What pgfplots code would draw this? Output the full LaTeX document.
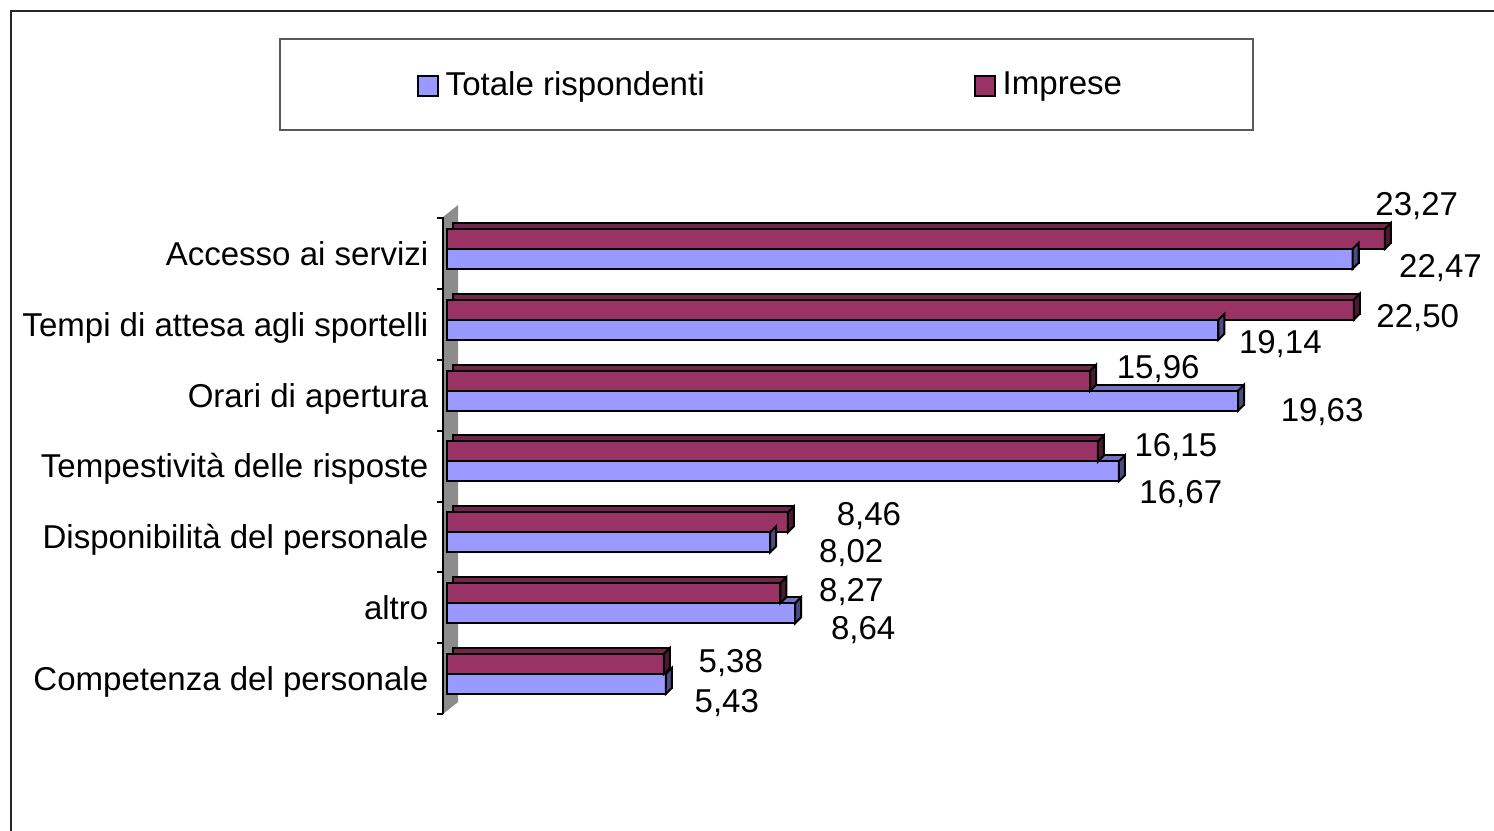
\documentclass[border=0pt]{standalone}
\usepackage{pgfplots}
\pgfplotsset{compat=1.18}
\usepackage{pgfplotstable}
\usepackage{fontspec}
\setmainfont{Liberation Sans}

\definecolor{totC}{HTML}{9999FF}
\definecolor{impC}{HTML}{993366}
\definecolor{wallC}{HTML}{8C8C8C}

% cat: 6 = top row; dx, dy = label offset from bar end at the category centre (px, y downward)
\pgfplotstableread{
cat val dx dy
6 22.47 88 17
5 19.14 62 22
4 19.63 84 19
3 16.67 62 30.5
2 8.02 81 19
1 8.64 68 25
0 5.43 61 27
}\totale

\pgfplotstableread{
cat val dx dy
6 23.27 32 -45
5 22.50 64 -4
4 15.96 68 -24
3 16.15 78 -16.5
2 8.46 81 -18
1 8.27 71 -13
0 5.38 67 -13
}\imprese

% right-hand faces of the 3D bars
\pgfdeclareplotmark{sideup}{%
  \pgfpathmoveto{\pgfpoint{0mm}{0mm}}%
  \pgfpathlineto{\pgfpoint{0mm}{2mm}}%
  \pgfpathlineto{\pgfpoint{0.6mm}{2.6mm}}%
  \pgfpathlineto{\pgfpoint{0.6mm}{0.6mm}}%
  \pgfpathclose
  \pgfusepathqfillstroke}
\pgfdeclareplotmark{sidedown}{%
  \pgfpathmoveto{\pgfpoint{0mm}{-2mm}}%
  \pgfpathlineto{\pgfpoint{0mm}{0mm}}%
  \pgfpathlineto{\pgfpoint{0.6mm}{0.6mm}}%
  \pgfpathlineto{\pgfpoint{0.6mm}{-1.4mm}}%
  \pgfpathclose
  \pgfusepathqfillstroke}

\newcommand\lbl{\fontsize{9.4}{11}\selectfont}

\pgfplotsset{
  sq legend/.style={legend image code/.code={\draw[##1, line width=0.2mm] (0mm,-1mm) rectangle (2mm,1mm);}},
  vlabels/.style={
    point meta=x,
    visualization depends on={\thisrow{dx} \as \dx},
    visualization depends on={\thisrow{dy} \as \dy},
    nodes near coords={\pgfmathprintnumber[fixed, fixed zerofill, precision=2, use comma, assume math mode=true]{\pgfplotspointmeta}},
    nodes near coords style={font=\lbl, text=black, anchor=base, xshift={\dx*0.1mm}, yshift={-(\dy+11.5)*0.1mm}},
  },
}

\begin{document}
\begin{tikzpicture}
\useasboundingbox (0,0) rectangle (149.4mm,-83.1mm);
\begin{scope}[x=0.1mm, y=-0.1mm]
  \draw[line width=0.2mm, black!85] (10.5,840) -- (10.5,10.5) -- (1500,10.5);
  \draw[line width=0.2mm, black!65] (279.5,38.5) rectangle (1252.5,130);
  \fill[wallC] (443,217) -- (458,205) -- (458,702) -- (443,714) -- cycle;
  \draw[line width=0.2mm] (443,217) -- (443,714);
  \foreach \j in {0,...,7}
    \draw[line width=0.2mm] (437,{218.3+70.8*\j}) -- (443,{218.3+70.8*\j});
\end{scope}

\begin{axis}[
  at={(44.7mm,-70.94mm)}, anchor=south west,
  x=4.03mm, y=7.083mm,
  xmin=0, xmax=25.5, ymin=-0.5, ymax=6.5,
  clip=false,
  axis line style={draw=none},
  xtick=\empty,
  ytick={0,...,6},
  yticklabels={Competenza del personale, altro, Disponibilità del personale, Tempestività delle risposte, Orari di apertura, Tempi di attesa agli sportelli, Accesso ai servizi},
  major tick length=0pt,
  yticklabel style={font=\lbl, anchor=base east, inner sep=0pt, xshift=-1.8mm, yshift=-1.65mm},
  legend columns=2,
  legend style={at={(axis description cs:-0.0295,1.2574)}, anchor=west, draw=none, fill=none,
    inner sep=0pt, outer sep=0pt, font=\lbl,
    /tikz/every even column/.append style={column sep=26.2mm}},
]
% Totale rispondenti
\addplot[forget plot, xbar, bar width=2mm, bar shift=-0.4mm, xshift=0.6mm,
  fill=totC!75!black, draw=black, line width=0.2mm] table[x=val, y=cat] {\totale};
\addplot[forget plot, only marks, mark=sidedown,
  mark options={fill=totC!50!black, draw=black, line width=0.2mm}] table[x=val, y=cat] {\totale};
\addplot[xbar, bar width=2mm, bar shift=-1mm, fill=totC, draw=black, line width=0.2mm,
  sq legend, vlabels] table[x=val, y=cat] {\totale};
\addlegendentry{Totale rispondenti}
% Imprese
\addplot[forget plot, xbar, bar width=2mm, bar shift=1.6mm, xshift=0.6mm,
  fill=impC!75!black, draw=black, line width=0.2mm] table[x=val, y=cat] {\imprese};
\addplot[forget plot, only marks, mark=sideup,
  mark options={fill=impC!50!black, draw=black, line width=0.2mm}] table[x=val, y=cat] {\imprese};
\addplot[xbar, bar width=2mm, bar shift=1mm, fill=impC, draw=black, line width=0.2mm,
  sq legend, vlabels] table[x=val, y=cat] {\imprese};
\addlegendentry{Imprese}
\end{axis}
\end{tikzpicture}
\end{document}
